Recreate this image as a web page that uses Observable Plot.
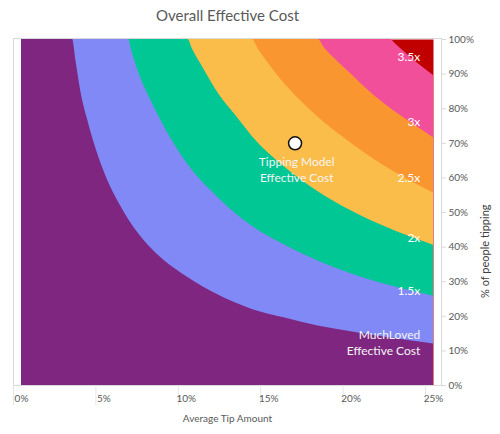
<!DOCTYPE html>
<html>
<head>
<meta charset="utf-8">
<script src="https://cdn.jsdelivr.net/npm/d3@7"></script>
<script src="https://cdn.jsdelivr.net/npm/@observablehq/plot@0.6"></script>
<style>
  body { margin: 0; background: #fff; }
</style>
</head>
<body>
<div id="chart"></div>
<script>
// Axis ticks (percent)
const xTicks = [0, 5, 10, 15, 20, 25];
const yTicks = [0, 10, 20, 30, 40, 50, 60, 70, 80, 90, 100];

// Band boundary curves: [average tip %, % of people tipping]
const boundary1 = [[0,100],[3.1,100],[3.3,94],[3.6,85],[4,77],[5,62],[6,52],[7,44.5],[8,39],[10,31.5],[12,26],[14,22],[16,19.5],[18,17.2],[20,15.5],[22,14],[25,12]];
const boundary2 = [[0,100],[6.5,100],[6.7,96.5],[7,92],[8,81],[9,72],[10,64.5],[12,54],[14,46],[16,40.5],[18,36],[20,32.3],[22,29.3],[25,25.8]];
const boundary3 = [[0,100],[10.1,100],[10.4,97],[11,92],[12,84],[13,78],[14,72],[16,63],[18,56],[20,50.5],[22,46],[25,40.5]];
const boundary4 = [[0,100],[14,100],[14.4,97],[15,93],[16,87],[17,82],[18,77.5],[20,70],[22,63.5],[25,55.6]];
const boundary5 = [[0,100],[18,100],[18.4,97.5],[19,94.5],[20,90],[21,85.5],[22,81.5],[23,78],[25,71.6]];
const boundary6 = [[0,100],[22.4,100],[22.7,98.7],[23,97.4],[24,93.3],[25,89.6]];

// Colours of each band (lowest to highest)
const bandColors = ["#7F2780", "#8089F5", "#00C794", "#FBBD4A", "#FA9630", "#F14F9A", "#C00000"];

// In-chart labels
const multLabels = ["3.5x", "3x", "2.5x", "2x", "1.5x"];
const multLabelY = [95, 76, 59.8, 42.5, 27.2];
const multLabelX = 24.2;
const muchLovedLabel = "MuchLoved\nEffective Cost";
const muchLovedPos = [24.2, 12.6];
const tippingLabel = "Tipping Model\nEffective Cost";
const tippingLabelPos = [16.7, 62.6];
const tippingPoint = [16.6, 70];

const boundariesTopDown = [boundary6, boundary5, boundary4, boundary3, boundary2, boundary1];
const fillsTopDown = [bandColors[5], bandColors[4], bandColors[3], bandColors[2], bandColors[1], bandColors[0]];

const textGray = "#595959";
const lineGray = "#d9d9d9";

const chart = Plot.plot({
  width: 500,
  height: 434,
  marginLeft: 21,
  marginRight: 67,
  marginTop: 39,
  marginBottom: 49,
  x: { domain: [0, 25], axis: null },
  y: { domain: [0, 100], axis: null },
  style: { fontFamily: "Lato, sans-serif", background: "#fff", overflow: "visible" },
  marks: [
    Plot.frame({ fill: bandColors[6] }),
    ...boundariesTopDown.map((b, i) =>
      Plot.areaY(b, { x: d => d[0], y: d => d[1], fill: fillsTopDown[i], curve: "monotone-x" })
    ),
    Plot.frame({ stroke: lineGray, insetLeft: -8, insetRight: -8, insetTop: -1 }),
    // right y axis
    Plot.axisY({ anchor: "right", ticks: yTicks, dx: 8, tickSize: 4, text: null, stroke: lineGray, label: null }),
    Plot.axisY({ anchor: "right", ticks: yTicks, dx: 8, tickSize: 0, tickPadding: 7, tickFormat: d => d + "%", fill: textGray, fontSize: 10, label: null }),
    // bottom x axis
    Plot.axisX({ anchor: "bottom", ticks: xTicks, dx: -8, tickSize: 20, text: null, stroke: "#e6e6e6", label: null }),
    Plot.axisX({ anchor: "bottom", ticks: xTicks, tickSize: 0, tickPadding: 9, tickFormat: d => d + "%", fill: textGray, fontSize: 10, label: null }),
    // titles
    Plot.text(["Overall Effective Cost"], { frameAnchor: "top", dy: -29.5, fontSize: 15, fill: textGray }),
    Plot.text(["Average Tip Amount"], { frameAnchor: "bottom", dy: 36, fontSize: 10, fill: textGray }),
    Plot.text(["% of people tipping"], { frameAnchor: "right", dx: 52, dy: -8, rotate: -90, fontSize: 11, fill: "#404040" }),
    // labels
    Plot.text(multLabels, { x: () => multLabelX, y: (d, i) => multLabelY[i], text: d => d, textAnchor: "end", fill: "#fff", fontSize: 12 }),
    Plot.text([muchLovedLabel], { x: () => muchLovedPos[0], y: () => muchLovedPos[1], text: d => d, textAnchor: "end", fill: "#f4f4f4", fontSize: 12, lineHeight: 1.3 }),
    Plot.text([tippingLabel], { x: () => tippingLabelPos[0], y: () => tippingLabelPos[1], text: d => d, textAnchor: "middle", fill: "#f4f4f4", fontSize: 12, lineHeight: 1.3 }),
    Plot.dot([tippingPoint], { x: d => d[0], y: d => d[1], r: 6.5, fill: "#fff", stroke: "#111", strokeWidth: 1.5 })
  ]
});
document.getElementById("chart").append(chart);
</script>
</body>
</html>
